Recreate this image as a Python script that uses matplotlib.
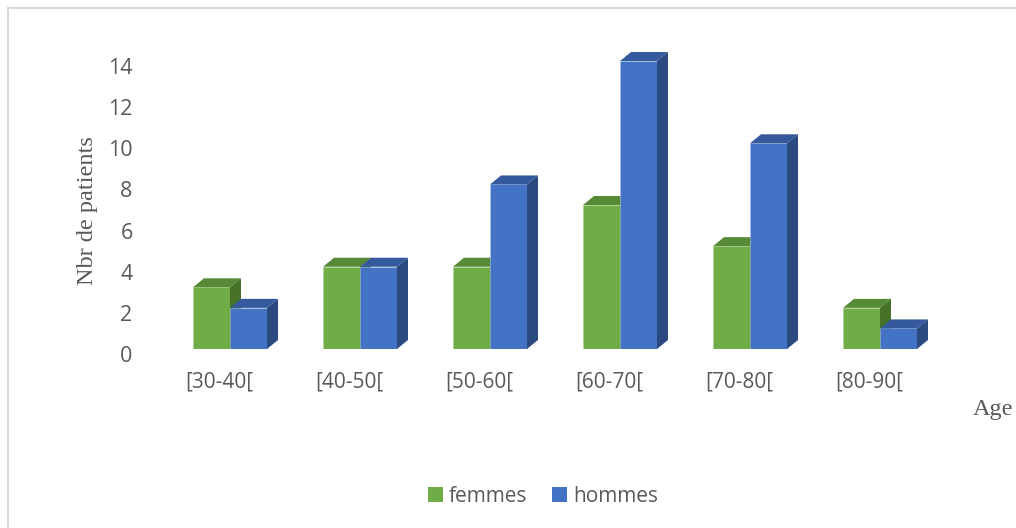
import numpy as np
import matplotlib.pyplot as plt
from matplotlib.patches import Polygon, Patch
from matplotlib.lines import Line2D
from matplotlib.transforms import ScaledTranslation

categories = ["[30-40[", "[40-50[", "[50-60[", "[60-70[", "[70-80[", "[80-90["]
femmes = np.array([3, 4, 4, 7, 5, 2])
hommes = np.array([2, 4, 8, 14, 10, 1])
yticks = [0, 2, 4, 6, 8, 10, 12, 14]

# couleurs (face avant, dessus, cote)
vert = ("#70AD47", "#578A37", "#46722A")
bleu = ("#4472C4", "#35599D", "#2A4A80")
gris = "#595959"

W, H = 1016, 528
fig = plt.figure(figsize=(W / 100, H / 100), dpi=100)

# axe place au pixel pres : 0 a y=349, 20.57 px par unite, groupes tous les 130 px
ymax = 15
xl = (-0.6, 5.8)
ax = fig.add_axes([152 / W, (H - 349) / H, 832 / W, ymax * 20.57 / H])
ax.set_xlim(*xl)
ax.set_ylim(0, ymax)
for s in ax.spines.values():
    s.set_visible(False)

w = 37 / 130          # largeur d'une barre
dx = 11 / 130         # profondeur en x
dy = 9 / 20.57        # profondeur en y

x = np.arange(len(categories))


def barre3d(x0, v, cols):
    ax.bar(x0, v, width=w, align="edge", color=cols[0], edgecolor="#A8C8E8" if cols is bleu else "#A9D18E",
           linewidth=0.4, zorder=3)
    dessus = [(x0, v), (x0 + w, v), (x0 + w + dx, v + dy), (x0 + dx, v + dy)]
    cote = [(x0 + w, 0), (x0 + w + dx, dy), (x0 + w + dx, v + dy), (x0 + w, v)]
    ax.add_patch(Polygon(dessus, closed=True, facecolor=cols[1], edgecolor="none", zorder=3, clip_on=False))
    ax.add_patch(Polygon(cote, closed=True, facecolor=cols[2], edgecolor="none", zorder=3, clip_on=False))


for i in x:
    barre3d(i - w, femmes[i], vert)
    barre3d(i, hommes[i], bleu)

ax.set_yticks(yticks)
ax.set_yticklabels([str(t) for t in yticks], fontsize=15.5, color=gris, family="Open Sans")
ax.tick_params(axis="y", length=0, pad=14)
for lab in ax.get_yticklabels():
    lab.set_transform(lab.get_transform() + ScaledTranslation(0, -5 / 100, fig.dpi_scale_trans))

ax.set_xticks(x - 0.08)
ax.set_xticklabels(categories, fontsize=15, color=gris, family="Open Sans")
ax.tick_params(axis="x", length=0, pad=16)

fig.text(88 / W, 1 - 211 / H, "Nbr de patients", rotation=90, ha="center", va="center",
         fontsize=17.5, family="Liberation Serif", color=gris)
fig.text(1013 / W, 1 - 410 / H, "Age", ha="right", va="center",
         fontsize=17.5, family="Liberation Serif", color=gris)

handles = [Patch(facecolor=vert[0], label="femmes"), Patch(facecolor=bleu[0], label="hommes")]
leg = fig.legend(handles=handles, loc="center", bbox_to_anchor=(543 / W, 1 - 496 / H), ncol=2,
                 frameon=False, handlelength=0.7, handleheight=0.7,
                 handletextpad=0.3, columnspacing=1.2, prop={"family": "Open Sans", "size": 15})
for t in leg.get_texts():
    t.set_color(gris)

# cadre gris clair
fig.add_artist(Line2D([7.5 / W, 1], [1 - 7.5 / H] * 2, color="#D9D9D9", lw=1.5))
fig.add_artist(Line2D([7.5 / W] * 2, [0, 1 - 7.5 / H], color="#D9D9D9", lw=1.5))

fig.savefig("out.png", dpi=100)
